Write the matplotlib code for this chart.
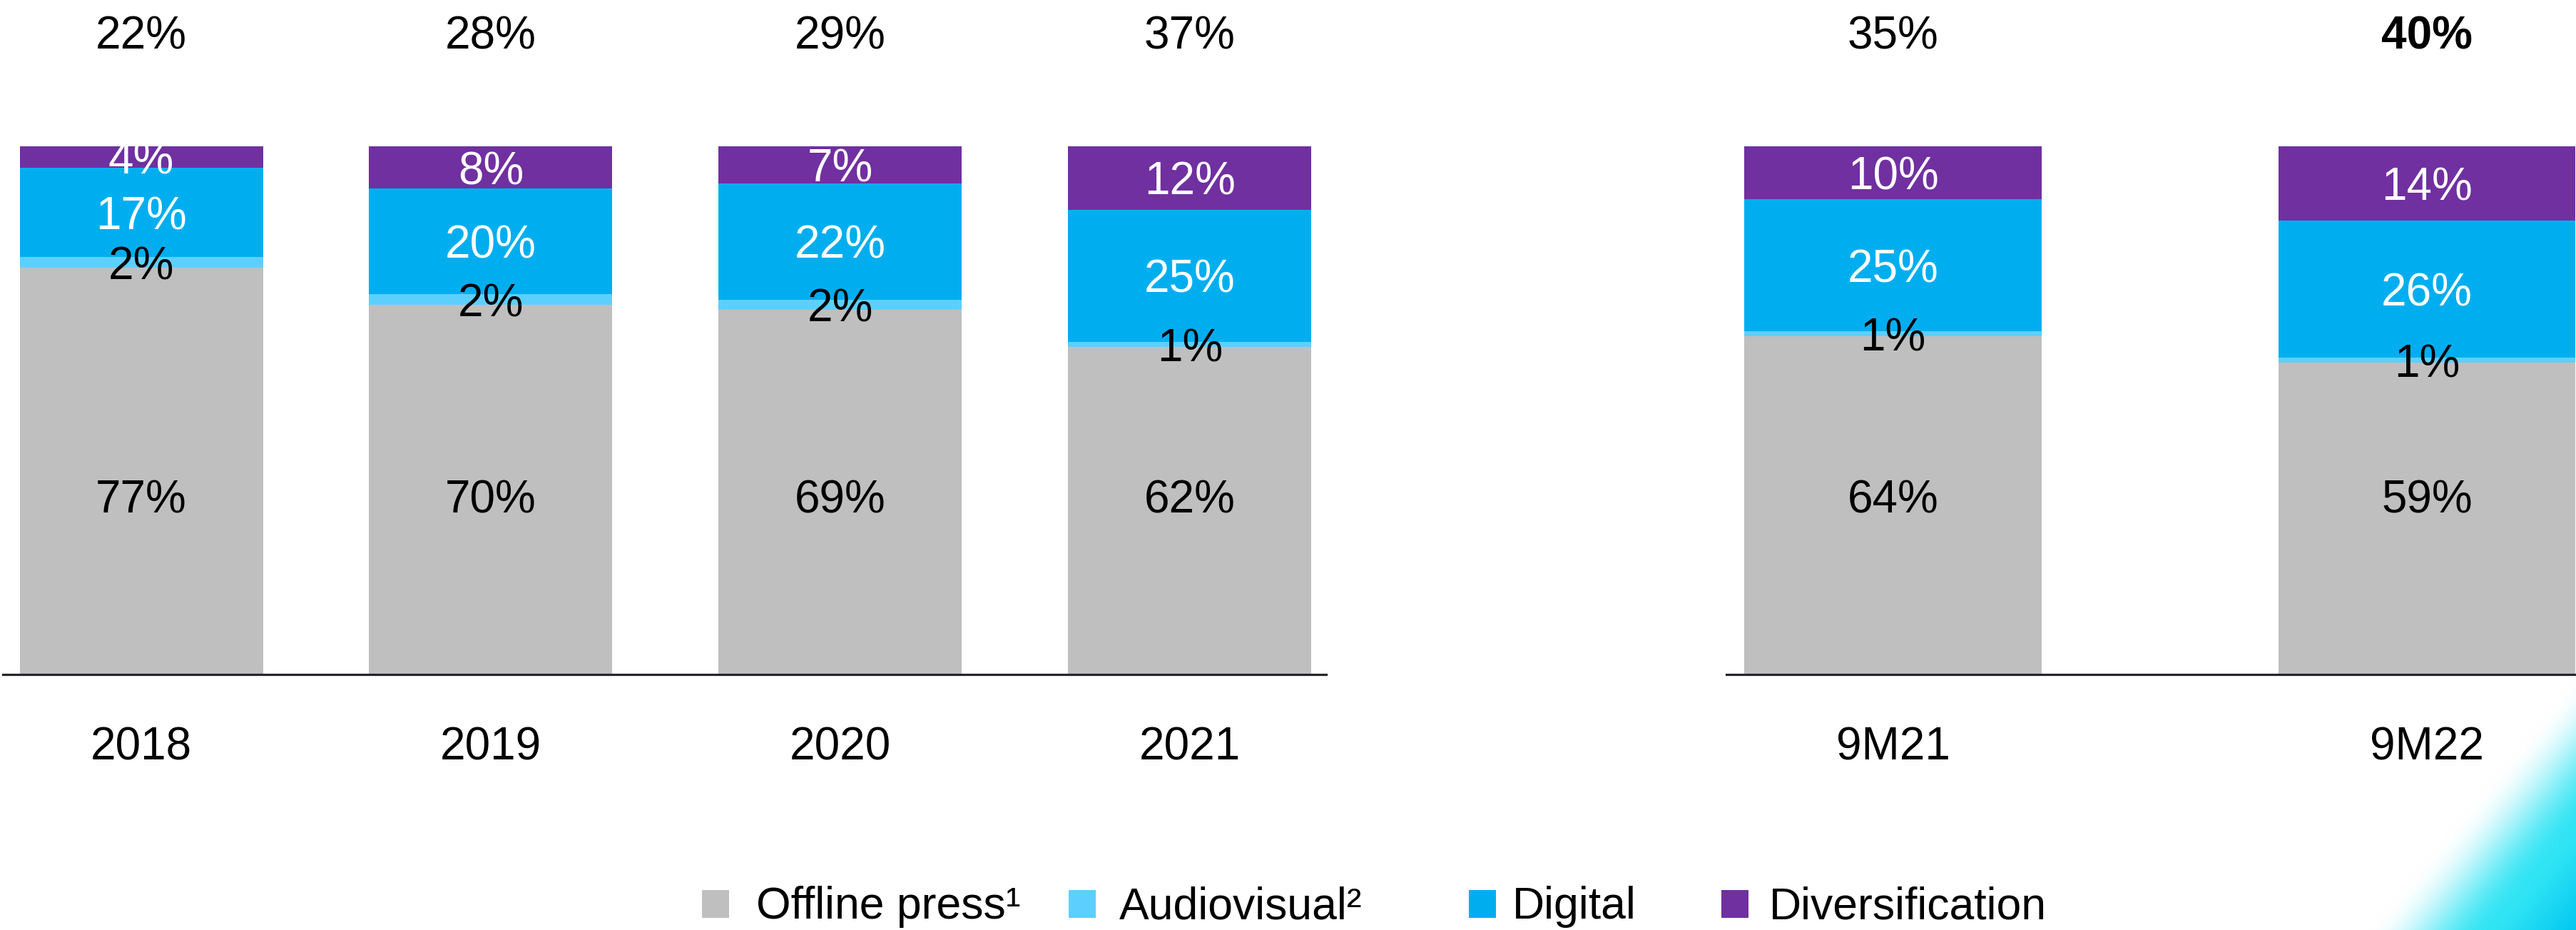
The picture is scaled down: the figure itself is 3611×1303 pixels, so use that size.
import numpy as np
import matplotlib
matplotlib.use("Agg")
import matplotlib.pyplot as plt
from matplotlib.patches import Rectangle

plt.rcParams['font.family'] = ['Liberation Sans', 'DejaVu Sans']

# Revenue mix by activity (% of total)
periods_annual = ["2018", "2019", "2020", "2021"]
periods_9m = ["9M21", "9M22"]
offline_press = [77, 70, 69, 62, 64, 59]
audiovisual = [2, 2, 2, 1, 1, 1]
digital = [17, 20, 22, 25, 25, 26]
diversification = [4, 8, 7, 12, 10, 14]
non_press_share = ["22%", "28%", "29%", "37%", "35%", "40%"]
series_names = ["Offline press\u00b9", "Audiovisual\u00b2", "Digital", "Diversification"]

series_colors = ["#BFBFBF", "#5DCFFF", "#00AEEF", "#7030A0"]
label_colors = ["black", "black", "white", "white"]

W, H, DPI = 3611, 1303, 100
fig = plt.figure(figsize=(W / DPI, H / DPI), dpi=DPI)
fig.patch.set_facecolor("white")


def px_axes(left, right, top, bottom, **kw):
    return fig.add_axes([left / W, 1 - bottom / H, (right - left) / W, (bottom - top) / H], **kw)


# soft cyan glow in the lower-right corner
bg = fig.add_axes([0, 0, 1, 1], zorder=-5)
bg.set_xlim(0, W)
bg.set_ylim(H, 0)
bg.axis("off")
x0, x1, y0, y1 = 3100, W, 800, H
gx, gy = np.meshgrid(np.arange(x0, x1, 2), np.arange(y0, y1, 2))
s = ((gx - 3410) * 236 + (gy - 1303) * 194) / 305.5
t = np.clip((s + 70) / 135, 0, 1)
t = t * t * (3 - 2 * t)
t2 = np.clip((s - 70) / 90, 0, 1)
white = np.array([1, 1, 1])
cyan = np.array([0x30, 0xE4, 0xF4]) / 255
deep = np.array([0x00, 0xC6, 0xF0]) / 255
rgb = white * (1 - t[..., None]) + cyan * t[..., None]
rgb = rgb * (1 - t2[..., None]) + deep * t2[..., None]
bg.imshow(rgb, extent=(x0, x1, y1, y0), interpolation="bilinear", aspect="auto")

ax_l = px_axes(4, 1859, 205, 945)
ax_l.set_xlim(-0.396, 3.39)
ax_r = px_axes(2420, 3611, 205, 945)
ax_r.set_xlim(-0.312, 1.279)

stacks = [offline_press, audiovisual, digital, diversification]
px_per_unit = 7.4
# offline press labels sit on a common line across all bars
offline_label_y = (945 - 695) / px_per_unit


def draw_group(ax, names, sl, width):
    n = len(names)
    xs = np.arange(n)
    bottoms = np.zeros(n)
    for k, (vals, color, lc) in enumerate(zip(stacks, series_colors, label_colors)):
        v = np.array(vals[sl], dtype=float)
        ax.bar(xs, v, width=width, bottom=bottoms, color=color, linewidth=0, zorder=2)
        for x, b, h in zip(xs, bottoms, v):
            y = offline_label_y if k == 0 else b + h / 2
            ax.text(x, y, f"{int(h)}%", ha="center", va="center_baseline",
                    fontsize=46, color=lc, zorder=3)
        bottoms += v
    for x, name, top in zip(xs, names, non_press_share[sl]):
        ax.text(x, (945 - 1041) / px_per_unit, name, ha="center", va="center_baseline",
                fontsize=46, color="black", clip_on=False)
        ax.text(x, (945 - 45) / px_per_unit, top, ha="center", va="center_baseline",
                fontsize=46, color="black", clip_on=False,
                fontweight="bold" if top == non_press_share[-1] else "normal")
    ax.set_ylim(0, 100)
    for side in ("top", "left", "right"):
        ax.spines[side].set_visible(False)
    ax.spines["bottom"].set_color("#25252D")
    ax.spines["bottom"].set_linewidth(2.3)
    ax.spines["bottom"].set_zorder(4)
    ax.set_xticks([])
    ax.set_yticks([])
    ax.patch.set_alpha(0)


draw_group(ax_l, periods_annual, slice(0, 4), 0.696)
draw_group(ax_r, periods_9m, slice(4, 6), 0.556)

# legend
marker_left = [984, 1498, 2059, 2413]
text_left = [1060, 1569, 2120, 2480]
for ml, tl, name, color in zip(marker_left, text_left, series_names, series_colors):
    fig.patches.append(Rectangle((ml / W, 1 - 1286 / H), 38 / W, 39 / H,
                                 transform=fig.transFigure, color=color, linewidth=0))
    fig.text(tl / W, 1 - 1287 / H, name, ha="left", va="baseline", fontsize=45, color="black")

fig.savefig("out.png", dpi=DPI)
